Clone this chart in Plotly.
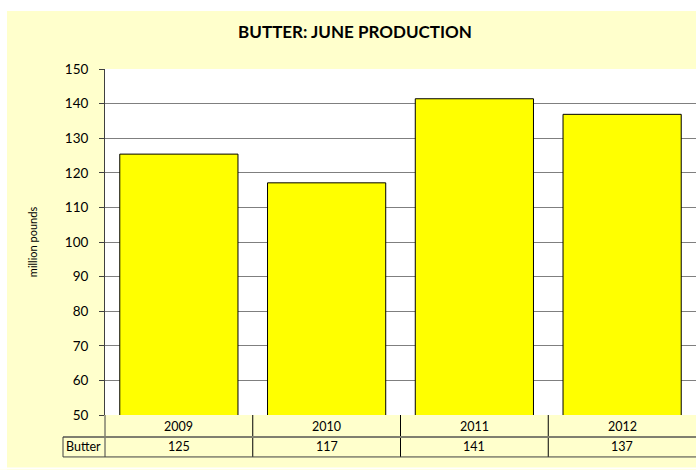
import plotly.graph_objects as go

# data
years = ["2009", "2010", "2011", "2012"]
butter = [125.4, 117.1, 141.4, 136.9]
table_values = [125, 117, 141, 137]
series_name = "Butter"

y_ticks = list(range(50, 151, 10))

# pixel geometry of the plot area (696x470 page)
left, top, bottom_px = 105, 69, 415.5
plot_h = bottom_px - top
plot_w = 696 - left


def py(px_y):
    # page pixel y -> paper y
    return (bottom_px - px_y) / plot_h


def px(px_x):
    # page pixel x -> paper x
    return (px_x - left) / plot_w


font = "Lato"
row1_bottom = py(437.5)
row2_bottom = py(457.5)

fig = go.Figure()

fig.add_trace(
    go.Bar(
        x=years,
        y=butter,
        marker=dict(color="#FFFF00", line=dict(color="#000000", width=1)),
        width=0.8,
        name=series_name,
        showlegend=False,
    )
)

shapes = []
# white strips around the yellow chart area
shapes.append(dict(type="rect", xref="paper", yref="paper", x0=px(0), x1=px(7), y0=py(0), y1=py(470),
                   fillcolor="white", line=dict(width=0), layer="above"))
shapes.append(dict(type="rect", xref="paper", yref="paper", x0=px(0), x1=px(700), y0=py(0), y1=py(11),
                   fillcolor="white", line=dict(width=0), layer="above"))
shapes.append(dict(type="rect", xref="paper", yref="paper", x0=px(0), x1=px(700), y0=py(468), y1=py(470),
                   fillcolor="white", line=dict(width=0), layer="above"))

# data table grid below the plot
shapes.append(dict(type="line", xref="paper", yref="paper", x0=0, x1=0, y0=0, y1=row2_bottom,
                   line=dict(color="#404040", width=1)))
for i in range(len(years) - 1):
    shapes.append(dict(type="line", xref="x", yref="paper", x0=i + 0.5, x1=i + 0.5, y0=0, y1=row2_bottom,
                       line=dict(color="#000000", width=1)))
shapes.append(dict(type="line", xref="paper", yref="paper", x0=px(63), x1=1, y0=row1_bottom, y1=row1_bottom,
                   line=dict(color="#7f7f6f", width=2)))
shapes.append(dict(type="line", xref="paper", yref="paper", x0=px(63), x1=1, y0=row2_bottom, y1=row2_bottom,
                   line=dict(color="#404040", width=1)))
shapes.append(dict(type="line", xref="paper", yref="paper", x0=px(63), x1=px(63), y0=row1_bottom, y1=row2_bottom,
                   line=dict(color="#404040", width=1)))

annotations = []
for i, (year, val) in enumerate(zip(years, table_values)):
    annotations.append(dict(x=i, xref="x", y=py(427.5), yref="paper", text=year, showarrow=False,
                            font=dict(size=12.5, color="#000000", family=font), yanchor="middle"))
    annotations.append(dict(x=i, xref="x", y=py(447.5), yref="paper", text=str(val), showarrow=False,
                            font=dict(size=12.5, color="#000000", family=font), yanchor="middle"))
annotations.append(dict(x=px(64), xref="paper", y=py(447.5), yref="paper", text=series_name, showarrow=False,
                        font=dict(size=12.5, color="#000000", family=font), xanchor="left", yanchor="middle"))

fig.update_layout(
    width=696,
    height=470,
    margin=dict(l=left, r=0, t=top, b=470 - bottom_px),
    paper_bgcolor="#FFFFCC",
    plot_bgcolor="#FFFFFF",
    title=dict(text="<b>BUTTER: JUNE PRODUCTION</b>", x=355 / 696, xref="container", xanchor="center",
               y=1 - 32 / 470, yanchor="middle", font=dict(size=17, color="#000000", family=font)),
    font=dict(family=font, color="#000000"),
    xaxis=dict(type="category", range=[-0.5, 3.5], showticklabels=False, ticks="", showgrid=False,
               showline=False, zeroline=False),
    yaxis=dict(range=[50, 150], tickvals=y_ticks, ticks="outside", ticklen=5, tickcolor="#404040",
               ticklabelstandoff=8, showgrid=True, gridcolor="#7f7f7f", gridwidth=1,
               showline=True, linecolor="#404040", linewidth=1, zeroline=False,
               tickfont=dict(size=13.5, color="#000000"),
               title=dict(text="million pounds", font=dict(size=11, color="#000000"), standoff=24)),
    shapes=shapes,
    annotations=annotations,
    bargap=0.2,
)

# drop the browser's default body margin so the figure sits at the page origin
fig.write_html("out.html", config={"displayModeBar": False},
               post_script="document.body.style.margin='0px';")
